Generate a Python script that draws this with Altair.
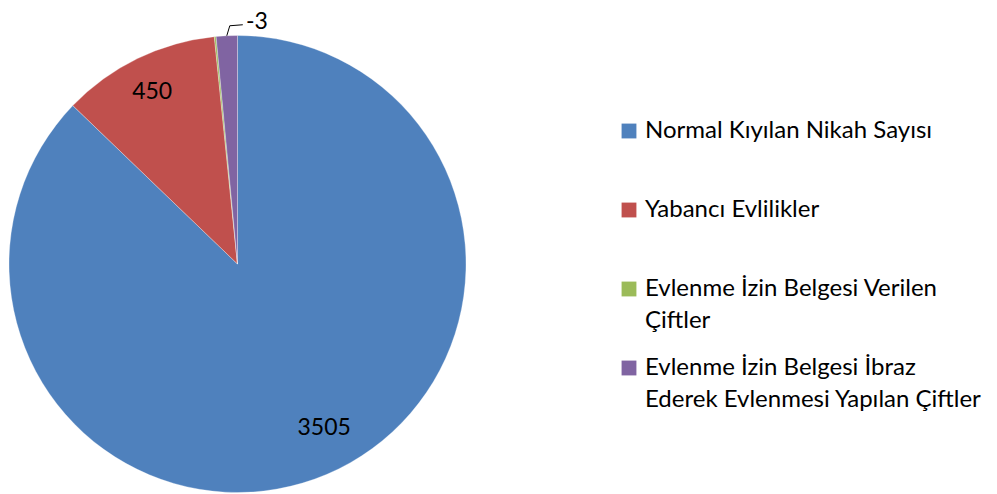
import altair as alt
import pandas as pd

categories = [
    "Normal Kıyılan Nikah Sayısı|",
    "Yabancı Evlilikler|",
    "Evlenme İzin Belgesi Verilen|Çiftler",
    "Evlenme İzin Belgesi İbraz|Ederek Evlenmesi Yapılan Çiftler",
]
values = [3505, 450, 5, 60]
big_labels = ["3505", "", "", ""]
mid_labels = ["", "450", "", ""]
outside_labels = ["", "", "", "-3"]
colors = ["#4F81BD", "#C0504D", "#9BBB59", "#8064A2"]

df = pd.DataFrame({
    "cat": categories,
    "value": values,
    "idx": list(range(len(categories))),
    "lab_big": big_labels,
    "lab_mid": mid_labels,
    "lab_out": outside_labels,
})

CX, CY, R = 229.5, 256, 228.5
FONT = "Lato"
FS = 23

base = alt.Chart(df)

color = alt.Color(
    "cat:N",
    scale=alt.Scale(domain=categories, range=colors),
    sort=categories,
    legend=alt.Legend(
        title=None,
        orient="none",
        legendX=609,
        legendY=111,
        symbolType="square",
        symbolSize=220,
        symbolStrokeWidth=0,
        labelFont=FONT,
        labelFontSize=24,
        labelColor="#000000",
        labelOffset=4,
        labelLimit=400,
        rowPadding=23,
        labelExpr="split(datum.label, '|')",
    ),
)

arcs = base.mark_arc(outerRadius=R, stroke="#ffffff", strokeWidth=0.3).encode(
    theta=alt.Theta("value:Q", stack=True),
    color=color,
    order=alt.Order("idx:Q"),
    x=alt.value(CX),
    y=alt.value(CY),
)


def label_layer(field, radius, dx, dy):
    return base.mark_text(
        radius=radius, dx=dx, dy=dy, font=FONT, fontSize=FS, color="#000000"
    ).encode(
        theta=alt.Theta("value:Q", stack=True),
        order=alt.Order("idx:Q"),
        text=f"{field}:N",
        x=alt.value(CX),
        y=alt.value(CY),
    )


big = label_layer("lab_big", 188, 13, -9)
mid = label_layer("lab_mid", 188, -3, -3)
outside = label_layer("lab_out", 247, 31, 5)

leader = (
    base.transform_joinaggregate(total="sum(value)")
    .transform_window(cum="sum(value)", sort=[alt.SortField("idx")], frame=[None, 0])
    .transform_filter("datum.lab_out != ''")
    .transform_calculate(ang="2*PI*(datum.cum - datum.value/2)/datum.total")
    .transform_calculate(step="[0, 1, 2]")
    .transform_flatten(["step"])
    .transform_calculate(
        px=f"{CX} + {R}*sin(datum.ang) + (datum.step >= 1 ? 3 : 0) + (datum.step == 2 ? 13 : 0)",
        py=f"{CY} - {R}*cos(datum.ang) - (datum.step >= 1 ? 10 : 0) - (datum.step == 2 ? 1 : 0)",
    )
    .mark_line(color="#000000", strokeWidth=1)
    .encode(
        x=alt.X("px:Q", scale=None),
        y=alt.Y("py:Q", scale=None),
        order="step:Q",
    )
)

chart = (
    alt.layer(arcs, big, mid, outside, leader)
    .properties(width=981, height=486, padding=0, autosize="none")
    .configure_view(stroke=None)
)

chart.save(
    "out.html",
    embed_options={
        "renderer": "svg",
        "actions": False,
        "patch": [
            {
                "op": "add",
                "path": "/legends/0/encode/labels/update/lineHeight",
                "value": {"value": 32},
            }
        ],
    },
)
